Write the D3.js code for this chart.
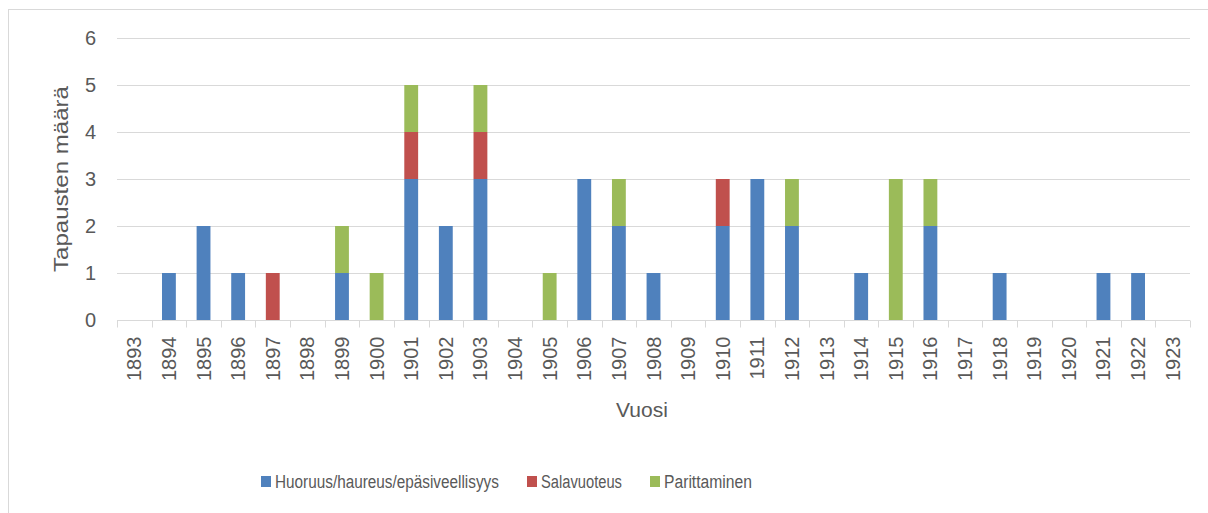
<!DOCTYPE html>
<html>
<head>
<meta charset="utf-8">
<script src="https://cdn.jsdelivr.net/npm/d3@7"></script>
<style>
	body { margin: 0; background: #fff; }
	text { font-family: "Liberation Sans", Arial, sans-serif; fill: #595959; }
</style>
</head>
<body>
<div id="chart"></div>
<script>
const years = ["1893", "1894", "1895", "1896", "1897", "1898", "1899", "1900", "1901", "1902",
	"1903", "1904", "1905", "1906", "1907", "1908", "1909", "1910", "1911", "1912",
	"1913", "1914", "1915", "1916", "1917", "1918", "1919", "1920", "1921", "1922", "1923"];

const seriesNames = ["Huoruus/haureus/epäsiveellisyys", "Salavuoteus", "Parittaminen"];
const seriesColors = ["#4f81bd", "#c0504d", "#9bbb59"];

// arvot vuosittain, sama järjestys kuin years
const huoruus = [0, 1, 2, 1, 0, 0, 1, 0, 3, 2, 3, 0, 0, 3, 2, 1, 0, 2, 3, 2, 0, 1, 0, 2, 0, 1, 0, 0, 1, 1, 0];
const salavuoteus = [0, 0, 0, 0, 1, 0, 0, 0, 1, 0, 1, 0, 0, 0, 0, 0, 0, 1, 0, 0, 0, 0, 0, 0, 0, 0, 0, 0, 0, 0, 0];
const parittaminen = [0, 0, 0, 0, 0, 0, 1, 1, 1, 0, 1, 0, 1, 0, 1, 0, 0, 0, 0, 1, 0, 0, 3, 1, 0, 0, 0, 0, 0, 0, 0];

const yTicks = [0, 1, 2, 3, 4, 5, 6];

const width = 1208, height = 513;
const margin = { left: 117, right: 18, top: 38, bottom: 193 };

const svg = d3.select("#chart")
	.append("svg")
	.attr("width", width)
	.attr("height", height);

// kaavion kehys
svg.append("rect")
	.attr("x", 8.5).attr("y", 9.5)
	.attr("width", width + 20).attr("height", height + 20)
	.attr("fill", "none")
	.attr("stroke", "#d9d9d9");

const x = d3.scaleBand()
	.domain(years)
	.range([margin.left, width - margin.right])
	.paddingInner(0.6)
	.paddingOuter(0.3);

const xBand = d3.scaleBand()
	.domain(years)
	.range([margin.left, width - margin.right]);

const y = d3.scaleLinear()
	.domain([0, 6])
	.range([height - margin.bottom, margin.top]);

// vaakaviivat
svg.append("g")
	.selectAll("line")
	.data(yTicks)
	.join("line")
	.attr("x1", margin.left).attr("x2", width - margin.right)
	.attr("y1", d => Math.round(y(d)) + 0.5)
	.attr("y2", d => Math.round(y(d)) + 0.5)
	.attr("stroke", "#d9d9d9");

svg.append("g")
	.selectAll("text")
	.data(yTicks)
	.join("text")
	.attr("x", 96)
	.attr("y", d => y(d))
	.attr("dy", "0.35em")
	.attr("text-anchor", "end")
	.style("font-size", "20px")
	.text(d => d);

const rows = years.map((yr, i) => ({
	year: yr,
	h: huoruus[i],
	s: salavuoteus[i],
	p: parittaminen[i]
}));

const stack = d3.stack().keys(["h", "s", "p"]);
const layers = stack(rows);

svg.append("g")
	.selectAll("g")
	.data(layers)
	.join("g")
	.attr("fill", (d, i) => seriesColors[i])
	.selectAll("rect")
	.data(d => d.filter(v => v[1] > v[0]))
	.join("rect")
	.attr("x", d => x(d.data.year))
	.attr("width", x.bandwidth())
	.attr("y", d => y(d[1]))
	.attr("height", d => y(d[0]) - y(d[1]));

// x-akseli ja jakoviivat
const axisY = Math.round(y(0)) + 0.5;
svg.append("line")
	.attr("x1", margin.left).attr("x2", width - margin.right)
	.attr("y1", axisY).attr("y2", axisY)
	.attr("stroke", "#d9d9d9");

const bounds = years.map(d => xBand(d)).concat([width - margin.right]);
svg.append("g")
	.selectAll("line")
	.data(bounds)
	.join("line")
	.attr("x1", d => Math.round(d) + 0.5).attr("x2", d => Math.round(d) + 0.5)
	.attr("y1", axisY).attr("y2", axisY + 7)
	.attr("stroke", "#d9d9d9");

svg.append("g")
	.selectAll("text")
	.data(years)
	.join("text")
	.attr("transform", d => "translate(" + (xBand(d) + xBand.bandwidth() / 2) + "," + (axisY + 16) + ") rotate(-90)")
	.attr("dy", "0.35em")
	.attr("text-anchor", "end")
	.style("font-size", "20px")
	.text(d => d);

svg.append("text")
	.attr("x", 642)
	.attr("y", 417)
	.attr("text-anchor", "middle")
	.style("font-size", "21px")
	.text("Vuosi");

svg.append("text")
	.attr("transform", "translate(68," + y(3) + ") rotate(-90)")
	.attr("text-anchor", "middle")
	.attr("textLength", 186)
	.attr("lengthAdjust", "spacingAndGlyphs")
	.style("font-size", "21px")
	.text("Tapausten määrä");

// selite: teksti kavennetaan skaalaamalla, jotta leveys vastaa alkuperäistä
const legendX = [261, 527, 650];
const legendW = [224, 81, 88];
const legend = svg.append("g")
	.selectAll("g")
	.data(seriesNames)
	.join("g")
	.attr("transform", (d, i) => "translate(" + legendX[i] + ",476)");

legend.append("rect")
	.attr("width", 10).attr("height", 11)
	.attr("fill", (d, i) => seriesColors[i]);

legend.append("text")
	.style("font-size", "19px")
	.text(d => d)
	.attr("transform", function (d, i) {
		const w = this.getComputedTextLength();
		return "translate(14,12) scale(" + (legendW[i] / w) + ",1)";
	});
</script>
</body>
</html>
